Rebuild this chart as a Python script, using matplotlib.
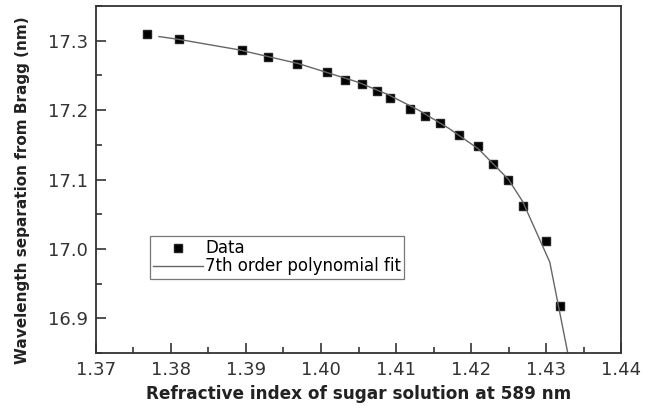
import matplotlib.pyplot as plt
from matplotlib.ticker import MultipleLocator

# measured points
ri = [1.3768, 1.3811, 1.3895, 1.3929, 1.3968, 1.4008, 1.4032, 1.4055, 1.4075,
      1.4092, 1.4119, 1.4139, 1.4159, 1.4184, 1.4209, 1.4229, 1.4249, 1.4269,
      1.4300, 1.4319]
sep = [17.310, 17.303, 17.286, 17.276, 17.267, 17.255, 17.243, 17.237, 17.228,
       17.217, 17.202, 17.192, 17.181, 17.164, 17.149, 17.123, 17.099, 17.062,
       17.011, 16.918]

# polynomial fit curve as drawn
fit_ri = [1.3784, 1.381, 1.389, 1.397, 1.405, 1.409, 1.413, 1.417, 1.421,
          1.425, 1.4269, 1.4305, 1.4329]
fit_sep = [17.306, 17.302, 17.287, 17.267, 17.240, 17.222, 17.200, 17.174,
           17.144, 17.100, 17.068, 16.981, 16.850]

plt.rcParams['font.family'] = ['DejaVu Sans']

fig = plt.figure(figsize=(6.52, 4.15), dpi=100)
ax = fig.add_axes([0.1472, 0.1494, 0.8053, 0.8361])

ax.plot(ri, sep, 's', color='black', ms=6, mec='#222222', label='Data')
ax.plot(fit_ri, fit_sep, '-', color='#666666', lw=1.0,
        label='7th order polynomial fit')

ax.set_xlim(1.37, 1.44)
ax.set_ylim(16.85, 17.35)
ax.xaxis.set_major_locator(MultipleLocator(0.01))
ax.xaxis.set_minor_locator(MultipleLocator(0.005))
ax.yaxis.set_major_locator(MultipleLocator(0.1))
ax.yaxis.set_minor_locator(MultipleLocator(0.05))
ax.xaxis.set_major_formatter(plt.FormatStrFormatter('%.2f'))
ax.yaxis.set_major_formatter(plt.FormatStrFormatter('%.1f'))

ax.tick_params(which='both', direction='in', colors='#333333', labelcolor='#333333',
               labelsize=13, width=1.2)
ax.tick_params(which='major', length=7, pad=6)
ax.tick_params(which='minor', length=4)

for s in ax.spines.values():
    s.set_color('#333333')
    s.set_linewidth(1.3)

ax.set_xlabel('Refractive index of sugar solution at 589 nm', fontsize=12.2,
              fontweight='bold', color='#222222', labelpad=4)
ax.set_ylabel('Wavelength separation from Bragg (nm)', fontsize=11,
              fontweight='bold', color='#222222')
ax.yaxis.set_label_coords(-0.126, 0.47)

leg = ax.legend(loc='upper left', bbox_to_anchor=(0.103, 0.337), fontsize=12,
                frameon=True, fancybox=False, edgecolor='#555555',
                borderpad=0.2, handlelength=3.0, handletextpad=0.1,
                labelspacing=0.0, borderaxespad=0)
leg.get_frame().set_linewidth(0.9)

plt.savefig('out.png', dpi=100)
